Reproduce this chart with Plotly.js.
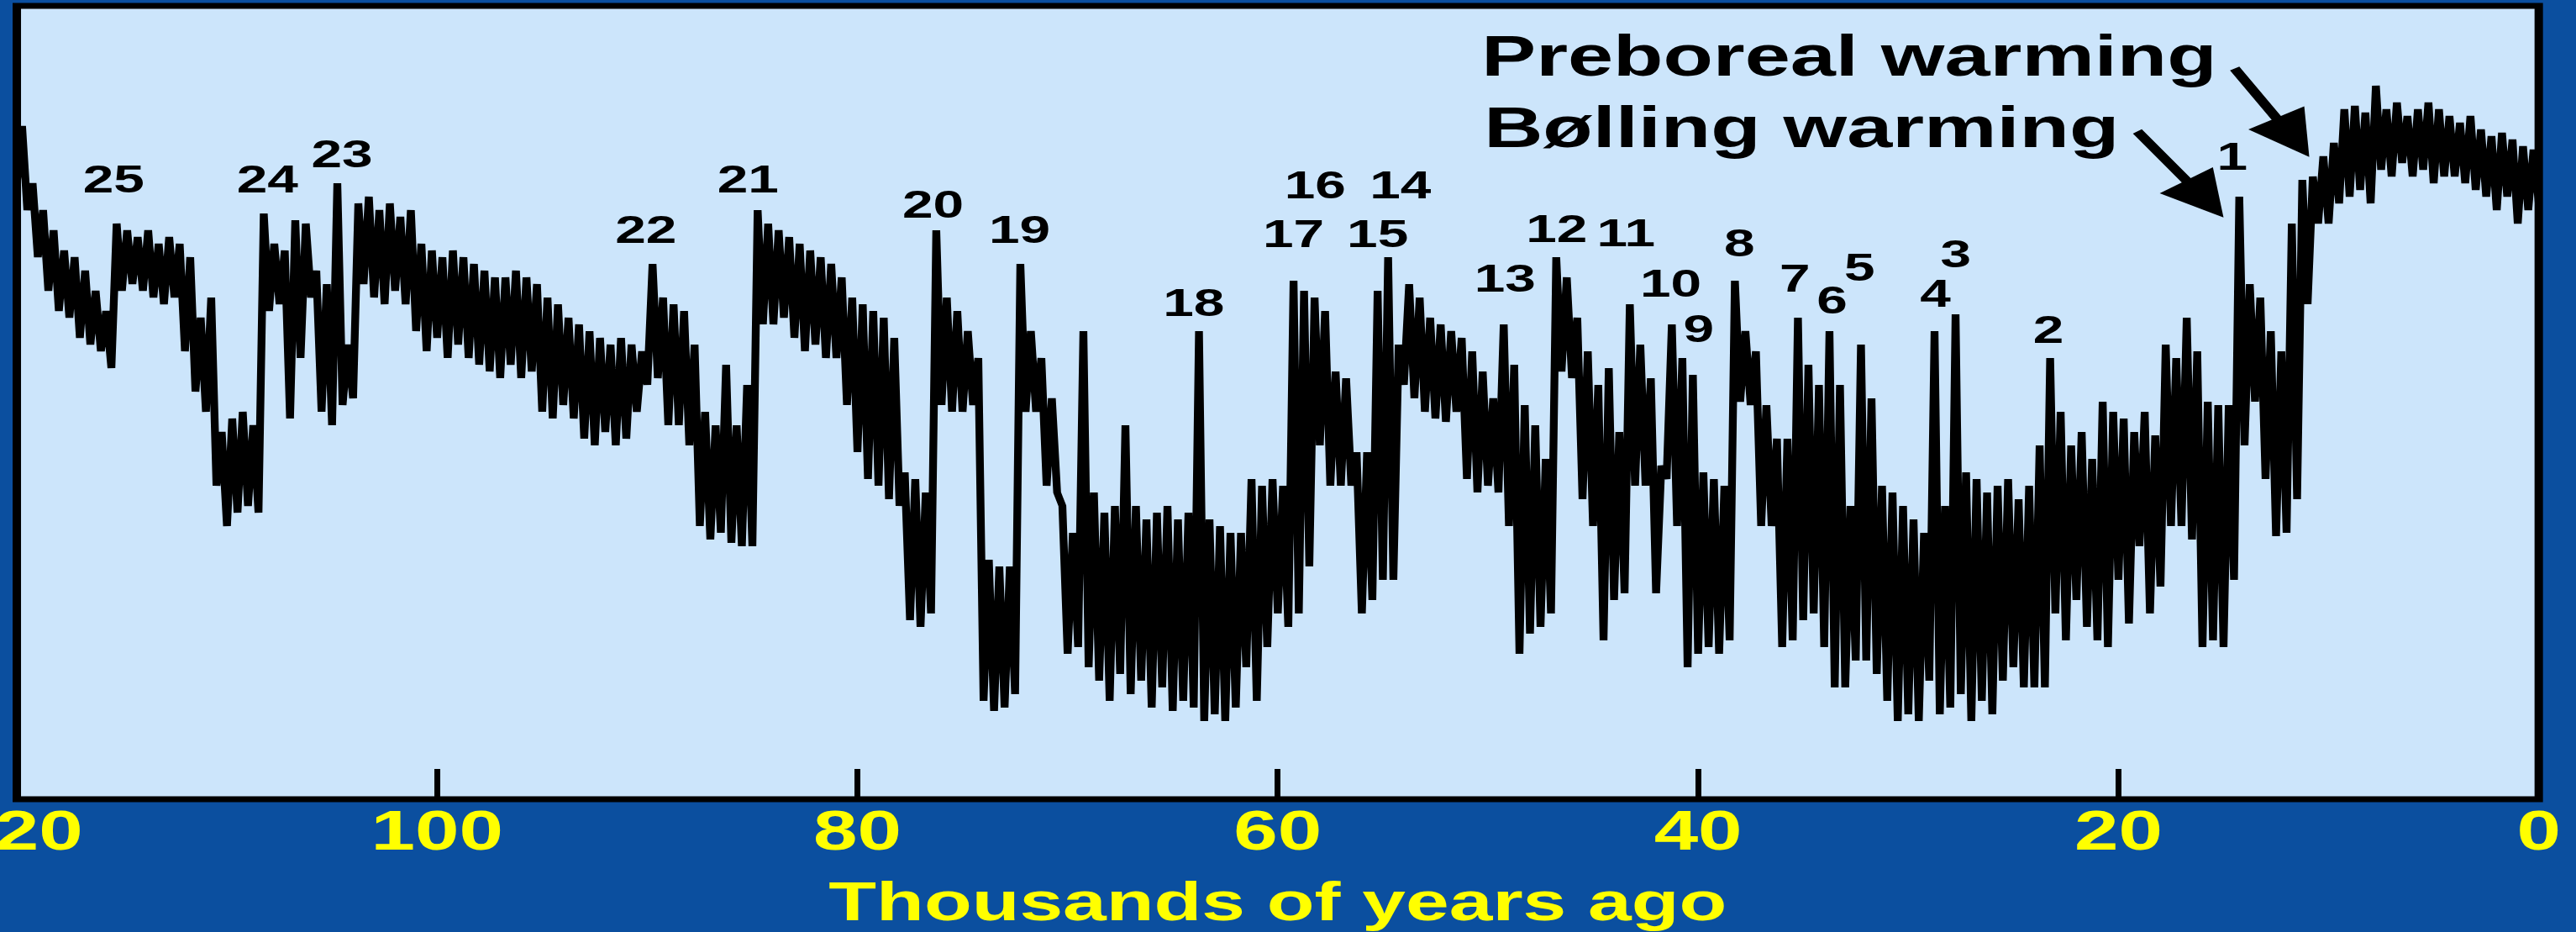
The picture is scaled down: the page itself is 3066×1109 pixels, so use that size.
<!DOCTYPE html>
<html>
<head>
<meta charset="utf-8">
<script src="https://cdn.plot.ly/plotly-3.0.1.min.js"></script>
<style>
html,body{margin:0;padding:0;background:#0b4f9f;overflow:hidden;width:3066px;height:1109px;}
#chart{width:2144px;height:1109px;transform:scaleX(1.43004);transform-origin:0 0;}
</style>
</head>
<body>
<div id="chart"></div>
<script>
// Age (thousands of years ago) and GISP2-style delta-18O values
const ageA = [
120,119.75,119.5,119.25, 119,118.75,118.5,118.25, 118,117.75,117.5,117.25, 117,116.75,116.5,116.25,
116,115.75,115.5,115.25, 115,114.75,114.5,114.25, 114,113.75,113.5,113.25, 113,112.75,112.5,112.25,
112,111.75,111.5,111.25, 111,110.75,110.5,110.25, 110,109.75,109.5,109.25, 109,108.75,108.5,108.25,
108,107.75,107.5,107.25, 107,106.75,106.5,106.25, 106,105.75,105.5,105.25, 105,104.75,104.5,104.25,
104,103.75,103.5,103.25, 103,102.75,102.5,102.25, 102,101.75,101.5,101.25, 101,100.75,100.5,100.25,
100,99.75,99.5,99.25, 99,98.75,98.5,98.25, 98,97.75,97.5,97.25, 97,96.75,96.5,96.25,
96,95.75,95.5,95.25, 95,94.75,94.5,94.25, 94,93.75,93.5,93.25, 93,92.75,92.5,92.25,
92,91.75,91.5,91.25, 91,90.75,90.5,90.25];
const d18oA = [
-35.6,-34.75,-36.0,-35.6, -36.7,-36.0,-37.2,-36.3, -37.5,-36.6,-37.6,-36.7, -37.9,-36.9,-38.0,-37.2,
-38.1,-37.5,-38.35,-36.2, -37.2,-36.3,-37.1,-36.4, -37.2,-36.3,-37.3,-36.5, -37.4,-36.4,-37.3,-36.5,
-38.1,-36.7,-38.7,-37.6, -39.0,-37.3,-40.1,-39.3, -40.7,-39.1,-40.5,-39.0, -40.4,-39.2,-40.5,-36.05,
-37.5,-36.5,-37.4,-36.6, -39.1,-36.15,-38.2,-36.2, -37.3,-36.9,-39.0,-37.1, -39.2,-35.6,-38.9,-38.0,
-38.8,-35.9,-37.1,-35.8, -37.3,-36.0,-37.4,-35.9, -37.2,-36.1,-37.4,-36.0, -37.8,-36.5,-38.1,-36.6,
-37.9,-36.7,-38.2,-36.6, -38.0,-36.7,-38.2,-36.8, -38.3,-36.9,-38.4,-37.0, -38.5,-37.0,-38.3,-36.9,
-38.5,-37.0,-38.4,-37.1, -39.0,-37.3,-39.1,-37.4, -38.9,-37.6,-39.1,-37.7, -39.4,-37.8,-39.5,-37.9,
-39.3,-38.0,-39.5,-37.9, -39.4,-38.0,-39.0,-38.1];

const ageB = [
90,89.75,89.5,89.25, 89,88.75,88.5,88.25, 88,87.75,87.5,87.25, 87,86.75,86.5,86.25,
86,85.75,85.5,85.25, 85,84.75,84.5,84.25, 84,83.75,83.5,83.25, 83,82.75,82.5,82.25,
82,81.75,81.5,81.25, 81,80.75,80.5,80.25, 80,79.75,79.5,79.25, 79,78.75,78.5,78.25,
78,77.75,77.5,77.25, 77,76.75,76.5,76.25, 76,75.75,75.5,75.25, 75,74.75,74.5,74.25,
74,73.75,73.5,73.25, 73,72.75,72.5,72.25, 72,71.75,71.5,71.25, 71,70.75,70.5,70.25,
70,69.75,69.5,69.25, 69,68.75,68.5,68.25, 68,67.75,67.5,67.25, 67,66.75,66.5,66.25,
66,65.75,65.5,65.25, 65,64.75,64.5,64.25, 64,63.75,63.5,63.25, 63,62.75,62.5,62.25,
62,61.75,61.5,61.25, 61,60.75,60.5,60.25];
const d18oB = [
-38.6,-36.8,-38.5,-37.3, -39.2,-37.4,-39.2,-37.5, -39.5,-38.0,-40.7,-39.0, -40.9,-39.2,-40.8,-38.3,
-40.95,-39.2,-41.0,-38.6, -41.0,-36.0,-37.7,-36.2, -37.7,-36.3,-37.6,-36.4, -37.9,-36.5,-38.1,-36.6,
-38.0,-36.7,-38.2,-36.8, -38.2,-37.0,-38.9,-37.3, -39.6,-37.4,-40.0,-37.5, -40.1,-37.6,-40.3,-37.9,
-40.4,-39.9,-42.1,-40.0, -42.2,-40.2,-42.0,-36.3, -38.9,-37.3,-39.0,-37.5, -39.0,-37.8,-38.9,-38.2,
-43.3,-41.2,-43.45,-41.3, -43.4,-41.3,-43.2,-36.8, -39.0,-37.8,-39.0,-38.2, -40.1,-38.8,-40.2,-40.4,
-42.6,-40.8,-42.5,-37.8, -42.8,-40.2,-43.0,-40.5, -43.3,-40.4,-42.9,-39.2, -43.2,-40.4,-43.0,-40.6,
-43.4,-40.5,-43.1,-40.4, -43.45,-40.6,-43.3,-40.5, -43.4,-37.8,-43.6,-40.6, -43.5,-40.7,-43.6,-40.8,
-43.4,-40.8,-42.8,-40.0, -43.3,-40.1,-42.5,-40.0];

const ageC = [
60,59.75,59.5,59.25, 59,58.75,58.5,58.25, 58,57.75,57.5,57.25, 57,56.75,56.5,56.25,
56,55.75,55.5,55.25, 55,54.75,54.5,54.25, 54,53.75,53.5,53.25, 53,52.75,52.5,52.25,
52,51.75,51.5,51.25, 51,50.75,50.5,50.25, 50,49.75,49.5,49.25, 49,48.75,48.5,48.25,
48,47.75,47.5,47.25, 47,46.75,46.5,46.25, 46,45.75,45.5,45.25, 45,44.75,44.5,44.25,
44,43.75,43.5,43.25, 43,42.75,42.5,42.25, 42,41.75,41.5,41.25, 41,40.75,40.5,40.25,
40,39.75,39.5,39.25, 39,38.75,38.5,38.25, 38,37.75,37.5,37.25, 37,36.75,36.5,36.25,
36,35.75,35.5,35.25, 35,34.75,34.5,34.25, 34,33.75,33.5,33.25, 33,32.75,32.5,32.25,
32,31.75,31.5,31.25, 31,30.75,30.5,30.25];
const d18oC = [
-42.0,-40.1,-42.2,-37.05, -42.0,-37.2,-41.3,-37.3, -39.5,-37.5,-40.1,-38.4, -40.1,-38.5,-40.1,-39.6,
-42.0,-39.6,-41.8,-37.2, -41.5,-36.7,-41.5,-38.0, -38.6,-37.1,-38.8,-37.3, -39.0,-37.6,-39.1,-37.7,
-39.15,-37.8,-39.0,-37.9, -40.0,-38.1,-40.2,-38.4, -40.1,-38.8,-40.2,-37.7, -40.7,-38.3,-42.6,-38.9,
-42.3,-39.2,-42.2,-39.7, -42.0,-36.7,-38.4,-37.0, -38.5,-37.6,-40.3,-38.1, -40.7,-38.6,-42.4,-38.35,
-41.8,-39.3,-41.7,-37.4, -40.1,-38.0,-40.1,-38.5, -41.7,-39.8,-40.0,-37.7, -40.7,-38.2,-42.8,-38.45,
-42.6,-39.9,-42.5,-40.0, -42.6,-40.1,-42.4,-37.05, -38.85,-37.8,-38.9,-38.1, -40.7,-38.9,-40.7,-39.4,
-42.5,-39.4,-42.4,-37.6, -42.1,-38.3,-42.0,-38.6, -42.5,-37.8,-43.1,-38.6, -43.1,-40.4,-42.7,-38.0,
-42.7,-38.8,-42.9,-40.1, -43.3,-40.2,-43.6,-40.4];

const ageD = [
30,29.75,29.5,29.25, 29,28.75,28.5,28.25, 28,27.75,27.5,27.25, 27,26.75,26.5,26.25,
26,25.75,25.5,25.25, 25,24.75,24.5,24.25, 24,23.75,23.5,23.25, 23,22.75,22.5,22.25,
22,21.75,21.5,21.25, 21,20.75,20.5,20.25, 20,19.75,19.5,19.25, 19,18.75,18.5,18.25,
18,17.75,17.5,17.25, 17,16.75,16.5,16.25, 16,15.75,15.5,15.25, 15,14.75,14.5,14.25,
14,13.75,13.5,13.25, 13,12.75,12.5,12.25, 12,11.75,11.5,11.25, 11,10.75,10.5,10.25,
10,9.75,9.5,9.25, 9,8.75,8.5,8.25, 8,7.75,7.5,7.25, 7,6.75,6.5,6.25,
6,5.75,5.5,5.25, 5,4.75,4.5,4.25, 4,3.75,3.5,3.25, 3,2.75,2.5,2.25,
2,1.75,1.5,1.25, 1,0.75,0.5,0.25, 0];
const d18oD = [
-43.5,-40.6,-43.6,-40.8, -43.0,-37.8,-43.5,-40.4, -43.4,-37.55,-43.2,-39.9, -43.6,-40.0,-43.3,-40.2,
-43.5,-40.1,-43.0,-40.0, -42.8,-40.3,-43.1,-40.1, -43.1,-39.5,-43.1,-38.2, -42.0,-39.0,-42.4,-39.5,
-41.8,-39.3,-42.2,-39.7, -42.4,-38.85,-42.5,-39.0, -41.5,-39.1,-42.15,-39.3, -41.0,-39.0,-42.0,-39.35,
-41.6,-38.0,-40.7,-38.2, -40.7,-37.6,-40.9,-38.1, -42.5,-38.85,-42.4,-38.9, -42.5,-38.9,-41.5,-35.8,
-39.5,-37.1,-38.85,-37.3, -40.0,-37.8,-40.85,-38.1, -40.8,-36.2,-40.3,-35.55, -37.4,-35.5,-36.2,-35.2,
-36.2,-35.0,-35.9,-34.5, -35.8,-34.45,-35.7,-34.55, -35.9,-34.15,-35.4,-34.5, -35.5,-34.4,-35.3,-34.6,
-35.5,-34.5,-35.4,-34.4, -35.6,-34.5,-35.5,-34.6, -35.5,-34.7,-35.6,-34.6, -35.7,-34.8,-35.8,-34.9,
-36.0,-34.85,-35.8,-34.95, -36.2,-35.05,-36.0,-35.1, -35.9];

// Interstadial event numbers and where they are printed (age, delta-18O)
const eventLabels = ['25','24','23','22','21','20','19','18','17','16','15','14','13',
                     '12','11','10','9','8','7','6','5','4','3','2','1'];
const eventAges = [115.4,108.08,104.56,90.08,85.2,76.4,72.28,64.0,59.28,58.24,55.28,54.16,49.2,
                   46.76,43.4,41.32,39.96,38.0,35.36,33.6,32.32,28.72,27.72,23.32,14.6];
const eventD18o = [-35.54,-35.54,-35.16,-36.29,-35.54,-35.91,-36.29,-37.38,-36.35,-35.63,-36.35,-35.63,-37.01,
                   -36.28,-36.34,-37.09,-37.76,-36.49,-37.01,-37.34,-36.85,-37.24,-36.65,-37.78,-35.2];

// Callouts: text, text anchor (age, d18O), arrow tail and arrow tip (age, d18O)
const calloutText = ['Preboreal warming','Bølling warming'];
const calloutAge = [50.4, 50.3];
const calloutD18o = [-33.7, -34.76];
const arrowTailAge = [14.52, 19.16];
const arrowTailD18o = [-33.875, -34.81];
const arrowTipAge = [10.92, 15.0];
const arrowTipD18o = [-35.21, -36.11];

const tickVals = [120,100,80,60,40,20,0];
const tickText = ['120','100','80','60','40','20','0'];

const ages = ageA.concat(ageB, ageC, ageD);
const d18o = d18oA.concat(d18oB, d18oC, d18oD);

const FONT = 'Liberation Sans, Arial, sans-serif';
const annotations = [];
eventLabels.forEach((t, i) => {
  annotations.push({x: eventAges[i], y: eventD18o[i], xref: 'x', yref: 'y', text: t,
    showarrow: false, xanchor: 'center', yanchor: 'middle',
    font: {family: FONT, size: 46, color: '#000000', weight: 'bold'}});
});
calloutText.forEach((t, i) => {
  annotations.push({x: calloutAge[i], y: calloutD18o[i], xref: 'x', yref: 'y', text: t,
    showarrow: false, xanchor: 'left', yanchor: 'middle',
    font: {family: FONT, size: 68, color: '#000000', weight: 'bold'}});
  annotations.push({x: arrowTipAge[i], y: arrowTipD18o[i], xref: 'x', yref: 'y', text: '',
    showarrow: true, ax: arrowTailAge[i], ay: arrowTailD18o[i], axref: 'x', ayref: 'y',
    arrowhead: 2, arrowsize: 1.2, arrowwidth: 9, arrowcolor: '#000000', standoff: 0, startstandoff: 0});
});

const trace = {x: ages, y: d18o, type: 'scatter', mode: 'lines',
  line: {color: '#000000', width: 6.5, join: 'miter'}, hoverinfo: 'skip'};

const layout = {
  width: 2144, height: 1109,
  paper_bgcolor: '#0b4f9f', plot_bgcolor: '#cce5fb',
  margin: {l: 14, r: 31, t: 7, b: 158, pad: 0},
  showlegend: false,
  xaxis: {range: [120, 0], autorange: false, tickmode: 'array', tickvals: tickVals, ticktext: tickText,
    ticks: 'inside', ticklen: 36, tickwidth: 5, tickcolor: '#000000',
    showgrid: false, zeroline: false, showline: false, ticklabelstandoff: -7,
    ticklabeloverflow: 'allow',
    tickfont: {family: FONT, size: 66, color: '#ffff00', weight: 'bold'},
    title: {text: 'Thousands of years ago', standoff: 43,
      font: {family: FONT, size: 65, color: '#ffff00', weight: 'bold'}}},
  yaxis: {range: [-44.7625, -32.9625], autorange: false, visible: false},
  shapes: [{type: 'rect', xref: 'paper', yref: 'paper', x0: 0, x1: 1, y0: 0, y1: 1,
    line: {color: '#000000', width: 7}, fillcolor: 'rgba(0,0,0,0)', layer: 'above'}],
  annotations: annotations
};

Plotly.newPlot('chart', [trace], layout, {staticPlot: true, displayModeBar: false});
</script>
</body>
</html>
